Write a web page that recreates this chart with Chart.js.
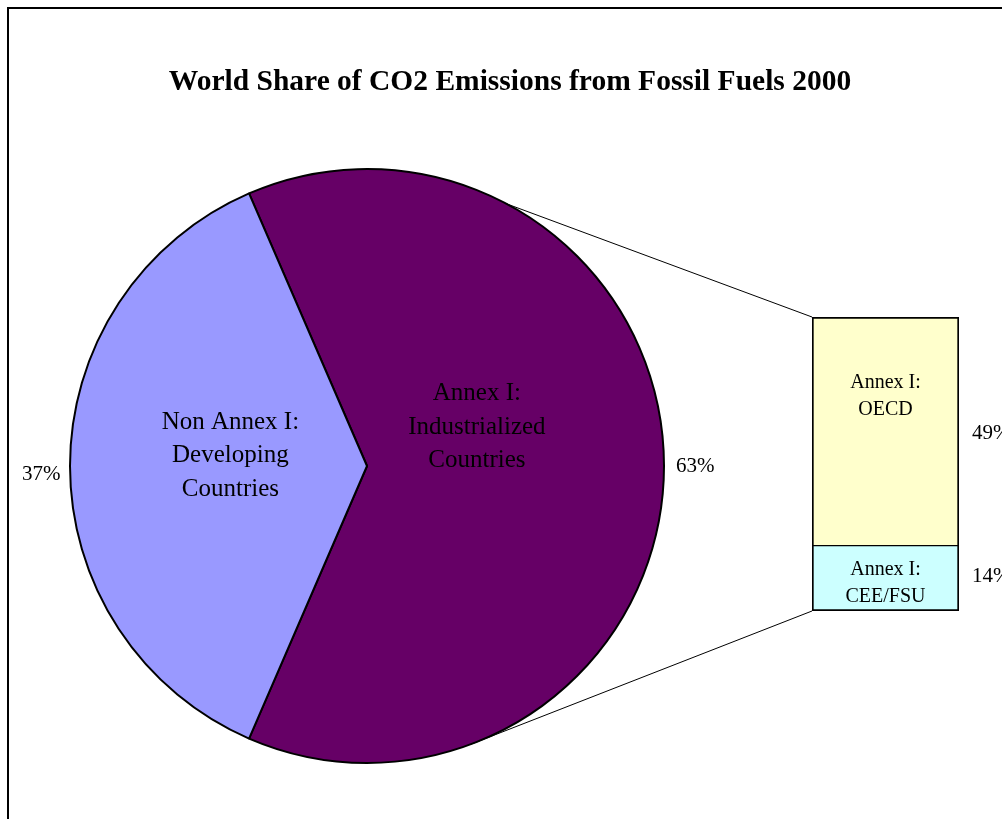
<!DOCTYPE html>
<html><head><meta charset="utf-8">
<script src="https://cdn.jsdelivr.net/npm/chart.js@4.4.1/dist/chart.umd.min.js"></script>
<style>
html,body{margin:0;padding:0;background:#fff;overflow:hidden;width:1002px;height:819px;}
#frame{position:absolute;left:7px;top:7px;width:1006px;height:900px;border:2px solid #000;box-sizing:border-box;}
canvas{position:absolute;left:0;top:0;}
</style></head><body>
<div id="frame"></div>
<canvas id="pie" width="1002" height="819"></canvas>
<canvas id="bar" width="1002" height="819"></canvas>
<script>
// ---- data ----
const titleText = 'World Share of CO2 Emissions from Fossil Fuels 2000';
const pieCategories = [['Annex I:', 'Industrialized', 'Countries'], ['Non Annex I:', 'Developing', 'Countries']];
const pieValues = [63, 37];
const barCategories = [['Annex I:', 'CEE/FSU'], ['Annex I:', 'OECD']];
const barValues = [14, 49];

// ---- styles ----
const SERIF = '"Liberation Serif", "Times New Roman", serif';
const pieColors = ['#660066', '#9999FF'];
const barColors = ['#CCFFFF', '#FFFFCC'];
// label anchor offsets as fractions of the pie radius (style only)
const pieNameOffsets = [[0.37, -0.13], [-0.46, -0.035]];
const piePctOffsets = [[1.105, 0.0], [-1.097, 0.03]];
const lineAngles = [-62, 69.6]; // connector anchor angles on the pie (deg)

function pct(v, total) { return Math.round(v / total * 100) + '%'; }
const pieTotal = pieValues.reduce((a, b) => a + b, 0);

function drawLines(ctx, lines, x, y, lh) {
  const n = lines.length;
  lines.forEach((t, i) => ctx.fillText(t, x, y + (i - (n - 1) / 2) * lh));
}

const pieLabelPlugin = {
  id: 'pieLabels',
  afterDatasetsDraw(chart) {
    const ctx = chart.ctx;
    const meta = chart.getDatasetMeta(0);
    ctx.save();
    ctx.fillStyle = '#000';
    ctx.textAlign = 'center';
    ctx.textBaseline = 'middle';
    meta.data.forEach((arc, i) => {
      const r = arc.outerRadius;
      ctx.font = '25px ' + SERIF;
      drawLines(ctx, chart.data.labels[i], arc.x + pieNameOffsets[i][0] * r, arc.y + pieNameOffsets[i][1] * r, 33.5);
      ctx.font = '21px ' + SERIF;
      ctx.fillText(pct(pieValues[i], pieTotal), arc.x + piePctOffsets[i][0] * r, arc.y + piePctOffsets[i][1] * r);
    });
    // title
    ctx.font = 'bold 29.5px ' + SERIF;
    ctx.fillText(titleText, 510, 82);
    ctx.restore();
  }
};

const pieChart = new Chart(document.getElementById('pie'), {
  type: 'pie',
  data: {
    labels: pieCategories,
    datasets: [{ data: pieValues, backgroundColor: pieColors, borderColor: '#000', borderWidth: 2 }]
  },
  options: {
    responsive: false,
    animation: false,
    rotation: -(pieValues[0] / pieTotal) * 180 + 90,
    layout: { padding: { left: 69, right: 337, top: 168, bottom: 55 } },
    plugins: { legend: { display: false }, tooltip: { enabled: false }, title: { display: false } },
    events: []
  },
  plugins: [pieLabelPlugin]
});

const barPlugin = {
  id: 'barExtras',
  beforeDatasetsDraw(chart) {
    const ctx = chart.ctx;
    const arc = pieChart.getDatasetMeta(0).data[0];
    const top = chart.getDatasetMeta(1).data[0];
    const bot = chart.getDatasetMeta(0).data[0];
    const leftX = top.x - top.width / 2;
    const ends = [[leftX, top.y], [leftX, bot.base]];
    ctx.save();
    ctx.strokeStyle = '#000';
    ctx.lineWidth = 1;
    lineAngles.forEach((a, i) => {
      const rad = a * Math.PI / 180;
      ctx.beginPath();
      ctx.moveTo(arc.x + arc.outerRadius * Math.cos(rad), arc.y + arc.outerRadius * Math.sin(rad));
      ctx.lineTo(ends[i][0], ends[i][1]);
      ctx.stroke();
    });
    ctx.restore();
  },
  afterDatasetsDraw(chart) {
    const ctx = chart.ctx;
    ctx.save();
    ctx.fillStyle = '#000';
    ctx.textBaseline = 'middle';
    chart.data.datasets.forEach((ds, i) => {
      const el = chart.getDatasetMeta(i).data[0];
      const segTop = el.y, segBot = el.base;
      const cx = el.x;
      const right = el.x + el.width / 2;
      ctx.font = '20px ' + SERIF;
      ctx.textAlign = 'center';
      let ly, py;
      if (i === 1) { ly = segTop + 79; py = segTop + 116; }
      else { ly = (segTop + segBot) / 2 + 5; py = (segTop + segBot) / 2 - 2; }
      drawLines(ctx, ds.labelLines, cx, ly, 27);
      ctx.font = '21px ' + SERIF;
      ctx.textAlign = 'left';
      ctx.fillText(pct(barValues[i], pieTotal), right + 13, py);
    });
    ctx.restore();
  }
};

new Chart(document.getElementById('bar'), {
  type: 'bar',
  data: {
    labels: ['Annex I'],
    datasets: [
      { label: barCategories[0].join(' '), labelLines: barCategories[0], data: [barValues[0]], backgroundColor: barColors[0], borderColor: '#000', borderWidth: { left: 2, right: 2, bottom: 2, top: 1 }, borderSkipped: false },
      { label: barCategories[1].join(' '), labelLines: barCategories[1], data: [barValues[1]], backgroundColor: barColors[1], borderColor: '#000', borderWidth: { left: 2, right: 2, top: 2, bottom: 1 }, borderSkipped: false }
    ]
  },
  options: {
    responsive: false,
    animation: false,
    datasets: { bar: { barPercentage: 1, categoryPercentage: 1 } },
    layout: { padding: { left: 812, right: 43, top: 317, bottom: 208 } },
    scales: {
      x: { stacked: true, display: false },
      y: { stacked: true, display: false, min: 0, max: barValues[0] + barValues[1] }
    },
    plugins: { legend: { display: false }, tooltip: { enabled: false }, title: { display: false } },
    events: []
  },
  plugins: [barPlugin]
});
</script>
</body></html>
